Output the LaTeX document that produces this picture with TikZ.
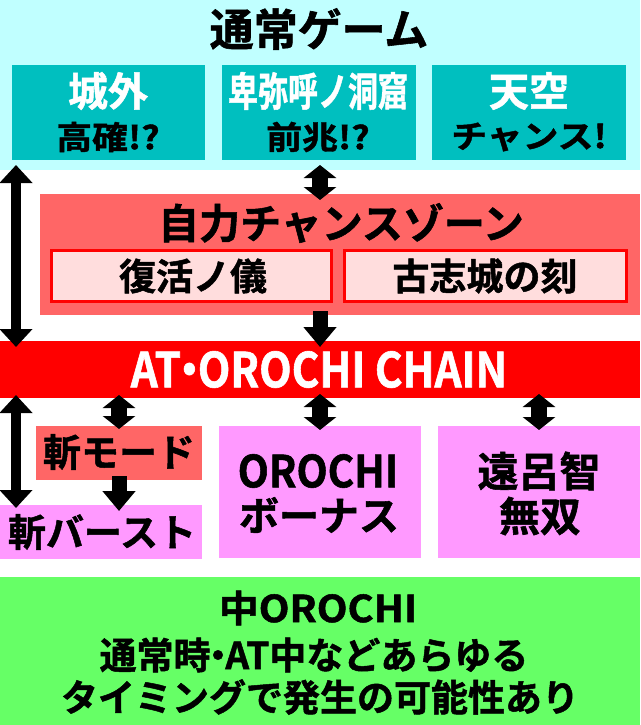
\documentclass[tikz,border=0pt]{standalone}
\usepackage{fontspec}
\usepackage{graphicx}
\setmainfont{Noto Sans CJK JP}[BoldFont={Noto Sans CJK JP Bold},BoldFeatures={FakeBold=1.3}]
\usetikzlibrary{arrows.meta}
\newcommand{\tx}[3]{{\fontsize{#1}{#1}\selectfont\bfseries\scalebox{#2}[1]{#3}}}
\newcommand{\ndot}{\kern-0.3em・\kern-0.3em}
\definecolor{cybg}{HTML}{C0FFFF}
\definecolor{tealbox}{HTML}{00BFBF}
\definecolor{salmon}{HTML}{FF6666}
\definecolor{palepink}{HTML}{FFDDDD}
\definecolor{redband}{HTML}{FF0000}
\definecolor{pinkbox}{HTML}{FF99FF}
\definecolor{greenbox}{HTML}{66FF66}
\begin{document}
\begin{tikzpicture}[x=1pt,y=-1pt,
  area/.style={draw=none,inner sep=0pt,outer sep=0pt,anchor=north west},
  lbl/.style={inner sep=0pt,outer sep=0pt,anchor=center},
  dblarrow/.style={line width=16pt,{Triangle[width=32pt,length=13pt]}-{Triangle[width=32pt,length=13pt]}},
  longarrow/.style={line width=10pt,{Triangle[width=32pt,length=18pt]}-{Triangle[width=32pt,length=18pt]}},
  downarrow/.style={line width=15pt,-{Triangle[width=32pt,length=20pt]}}
]
\useasboundingbox (0,0) rectangle (640,725);
\fill[white] (0,0) rectangle (640,725);

% normal game area
\node[area,fill=cybg,minimum width=640pt,minimum height=170pt] (normal) at (0,0) {};
\node[lbl] (normaltitle) at (319,29) {\tx{44}{1}{通常ゲーム}};
\node[area,fill=tealbox,minimum width=193pt,minimum height=95pt] (castle) at (12,65) {};
\node[area,fill=tealbox,minimum width=194pt,minimum height=95pt] (cave) at (222,65) {};
\node[area,fill=tealbox,minimum width=194pt,minimum height=95pt] (sky) at (432,65) {};
\node[lbl,text=white] (castleA) at (108,91) {\tx{40}{1}{城外}};
\node[lbl] (castleB) at (108,137) {\tx{32}{1.12}{高確!?}};
\node[lbl,text=white] (caveA) at (318,91) {\tx{40}{0.75}{卑弥呼ノ洞窟}};
\node[lbl] (caveB) at (318,137) {\tx{32}{1.12}{前兆!?}};
\node[lbl,text=white] (skyA) at (529,91) {\tx{40}{1}{天空}};
\node[lbl] (skyB) at (529,137) {\tx{32}{1.12}{チャンス!}};

% self chance zone
\node[area,fill=salmon,minimum width=600pt,minimum height=121pt] (zone) at (40,194) {};
\node[lbl] (zonetitle) at (341,223) {\tx{41}{1}{自力チャンスゾーン}};
\node[area,fill=palepink,draw=redband,line width=3pt,minimum width=280pt,minimum height=51pt] (revival) at (51.5,250.5) {};
\node[area,fill=palepink,draw=redband,line width=3pt,minimum width=282pt,minimum height=51pt] (koshi) at (344.5,250.5) {};
\node[lbl] (revivaltext) at (193,276) {\tx{37}{1}{復活ノ儀}};
\node[lbl] (koshitext) at (485,276) {\tx{37}{1}{古志城の刻}};

% AT band
\node[area,fill=redband,minimum width=640pt,minimum height=57pt] (chain) at (0,341) {};
\node[lbl,text=white] (chaintext) at (319,369.5) {\tx{48}{0.88}{AT\ndot OROCHI CHAIN}};

% lower boxes
\node[area,fill=salmon,minimum width=166pt,minimum height=54pt] (zanmode) at (36,426) {};
\node[lbl] (zanmodetext) at (119,452) {\tx{38}{1}{斬モード}};
\node[area,fill=pinkbox,minimum width=202pt,minimum height=54pt] (zanburst) at (0,505) {};
\node[lbl] (zanbursttext) at (102,532) {\tx{38}{1}{斬バースト}};
\node[area,fill=pinkbox,minimum width=202pt,minimum height=132pt] (bonus) at (219,426) {};
\node[lbl] (bonusA) at (318,471) {\tx{44}{0.92}{OROCHI}};
\node[lbl] (bonusB) at (319,515) {\tx{40}{1}{ボーナス}};
\node[area,fill=pinkbox,minimum width=202pt,minimum height=132pt] (musou) at (438,426) {};
\node[lbl] (musouA) at (539,471) {\tx{41}{1}{遠呂智}};
\node[lbl] (musouB) at (540,516) {\tx{41}{1}{無双}};

% chuu orochi
\node[area,fill=greenbox,minimum width=640pt,minimum height=148pt] (chuu) at (0,577) {};
\node[lbl] (chuuA) at (318,608) {\tx{37}{1.08}{中OROCHI}};
\node[lbl] (chuuB) at (314,655) {\tx{37}{1}{通常時\ndot AT中などあらゆる}};
\node[lbl] (chuuC) at (320,697) {\tx{37}{1}{タイミングで発生の可能性あり}};

% connectors
\draw[longarrow] ([xshift=16pt,yshift=5pt]normal.south west) -- ([xshift=16pt,yshift=-6pt]chain.north west);
\draw[dblarrow] ([xshift=320pt,yshift=5pt]normal.south west) -- ([xshift=280pt,yshift=-6pt]zone.north west);
\draw[downarrow] ([xshift=280pt,yshift=4pt]zone.south west) -- ([xshift=320pt,yshift=-6pt]chain.north west);
\draw[longarrow] ([xshift=16pt,yshift=3pt]chain.south west) -- ([xshift=16pt,yshift=-3pt]zanburst.north west);
\draw[dblarrow] ([xshift=119pt,yshift=3pt]chain.south west) -- ([xshift=83pt,yshift=-3pt]zanmode.north west);
\draw[dblarrow] ([xshift=320pt,yshift=4pt]chain.south west) -- ([xshift=101pt,yshift=-4pt]bonus.north west);
\draw[dblarrow] ([xshift=539pt,yshift=4pt]chain.south west) -- ([xshift=101pt,yshift=-4pt]musou.north west);
\draw[downarrow] ([xshift=83pt,yshift=4pt]zanmode.south west) -- ([xshift=119pt,yshift=-6pt]zanburst.north west);
\end{tikzpicture}
\end{document}
